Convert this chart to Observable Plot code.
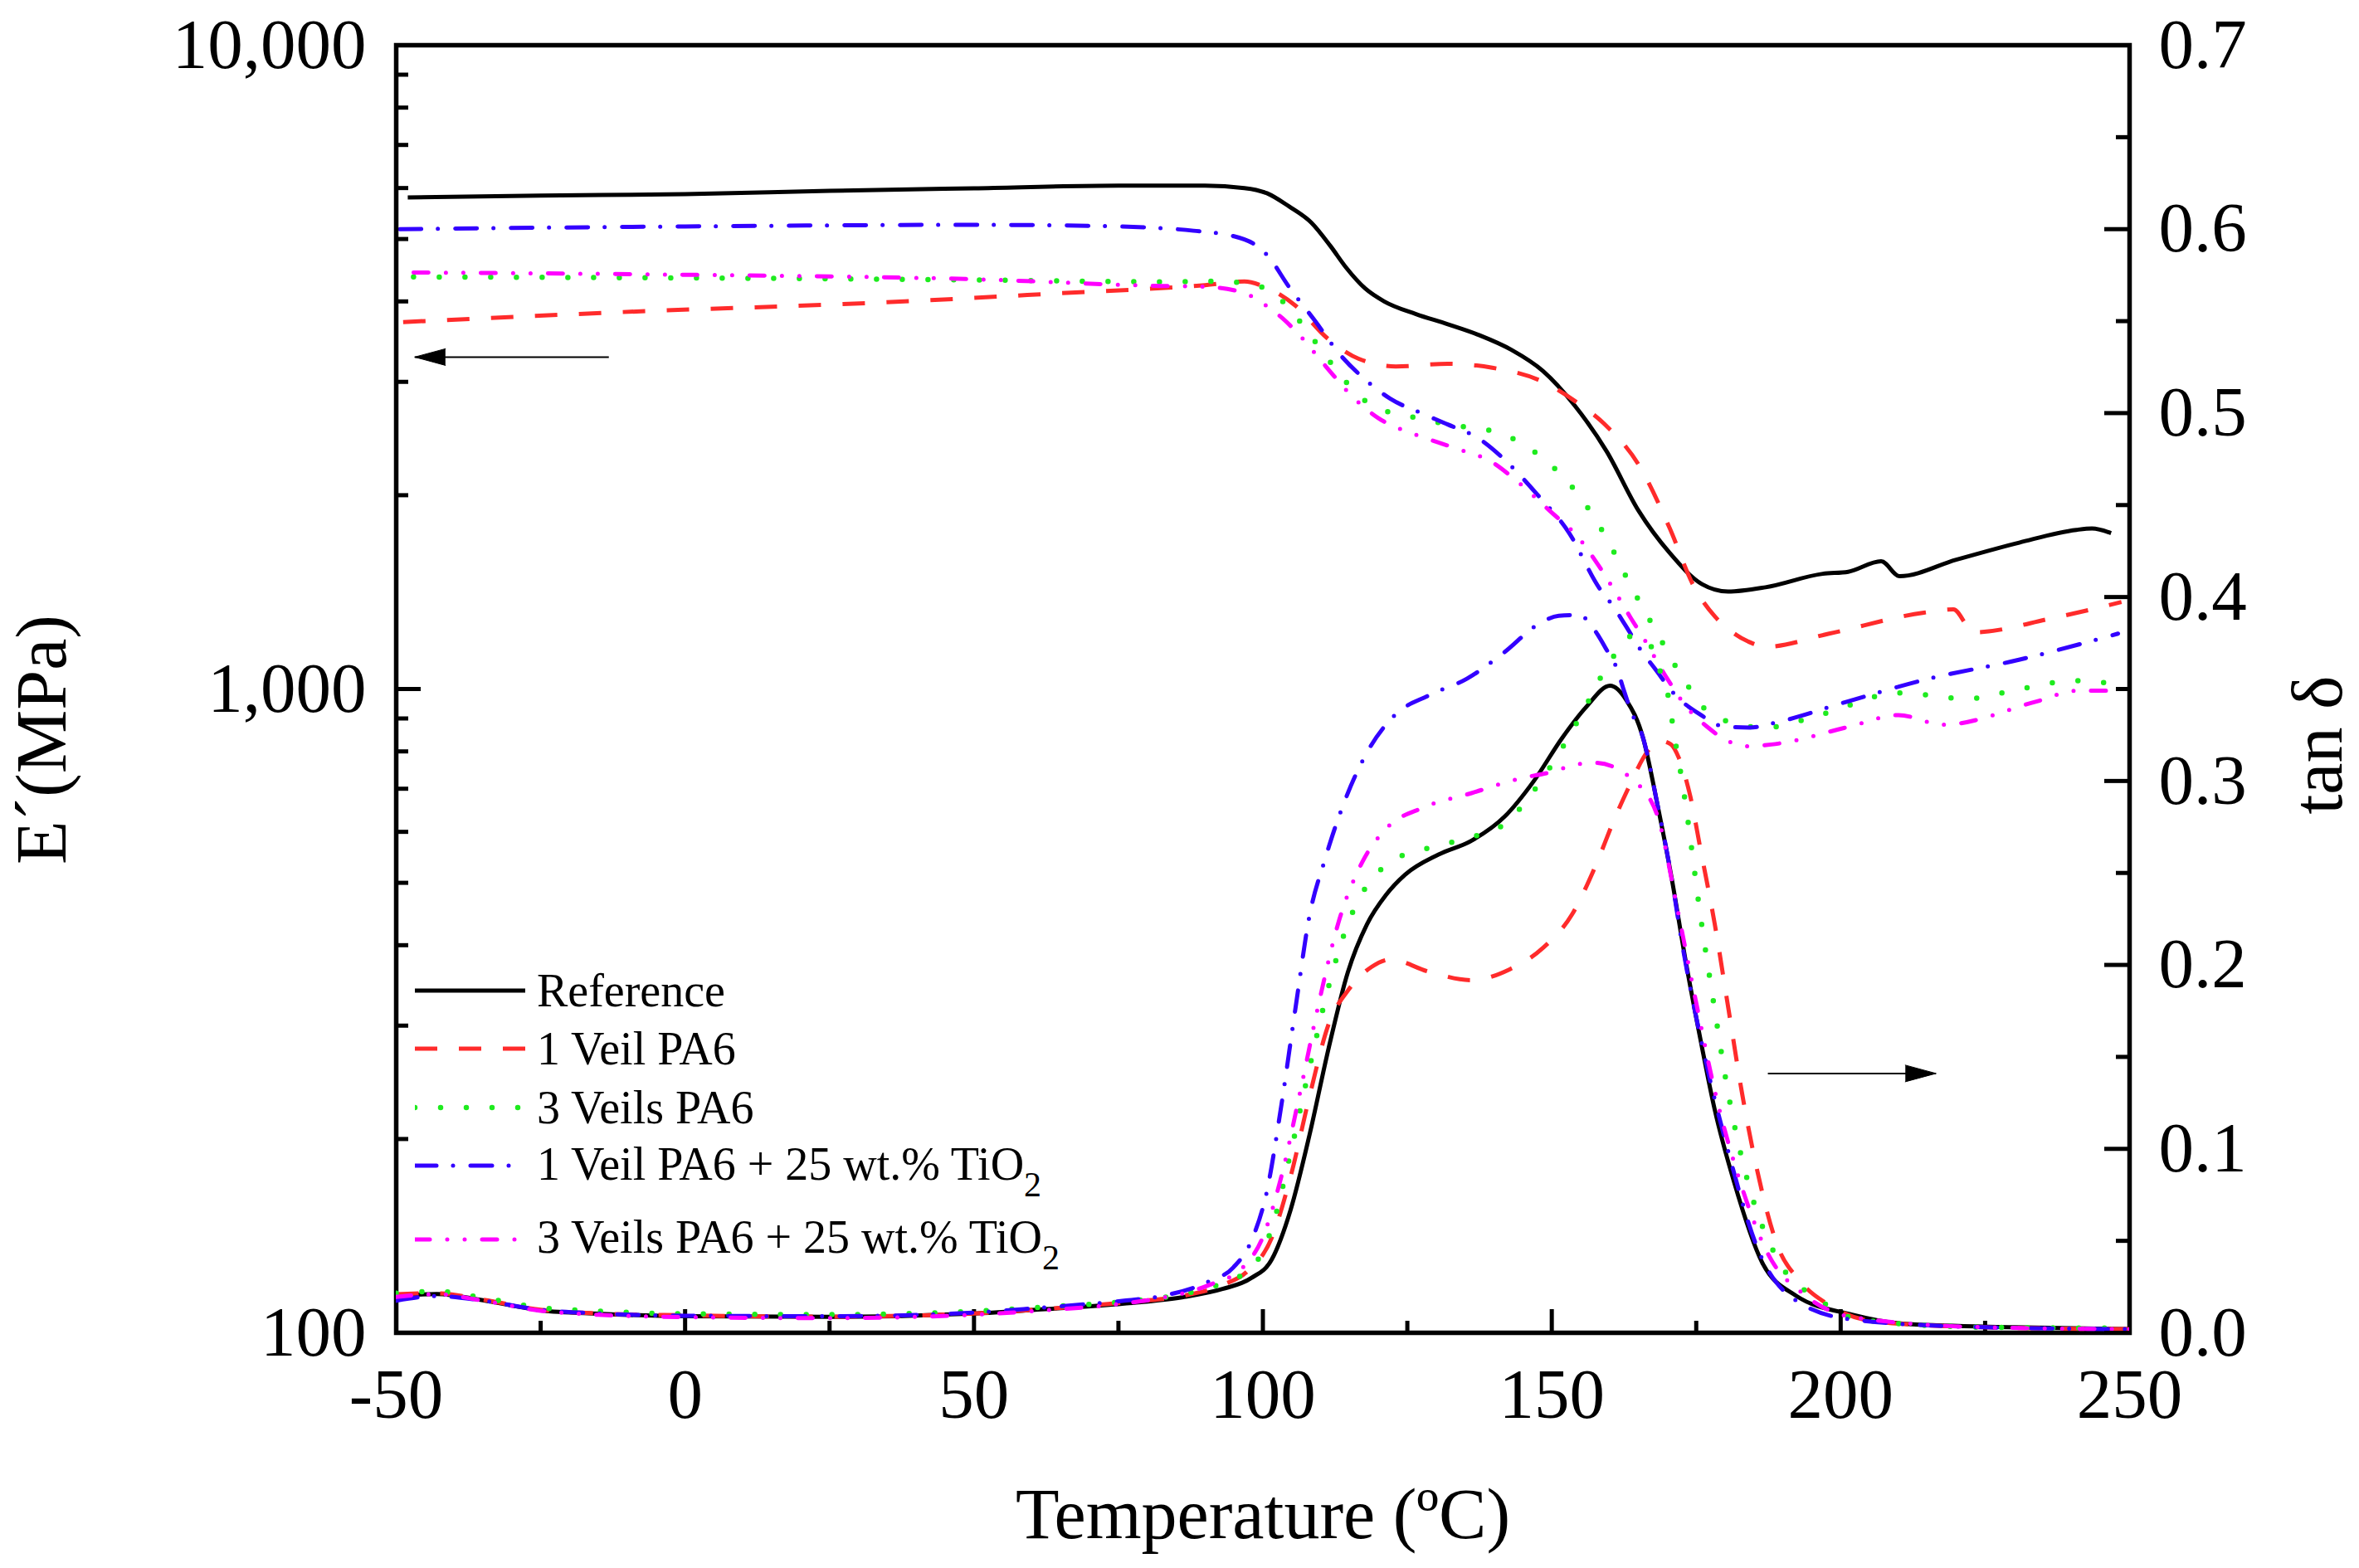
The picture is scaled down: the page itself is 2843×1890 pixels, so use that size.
<!DOCTYPE html>
<html><head><meta charset="utf-8">
<script src="https://cdn.jsdelivr.net/npm/d3@7"></script>
<script src="https://cdn.jsdelivr.net/npm/@observablehq/plot@0.6"></script>
<style>
html,body{margin:0;padding:0;background:#fff;}
#chart{position:relative;width:2843px;height:1890px;font-family:"Liberation Serif","Times New Roman",serif;color:#000;}
#chart > svg{position:absolute;left:0;top:0;}
.legend-row{position:absolute;left:500px;height:40px;display:flex;align-items:center;font-size:56px;line-height:40px;white-space:nowrap;}
.legend-row svg{display:block;flex:none;}
.legend-row .t{margin-left:14px;}
.legend-row .sub{font-size:42px;position:relative;top:20px;}
</style></head>
<body><div id="chart"></div>
<script>
// ---------- data ----------
const seriesNames = [
  ["Reference"],
  ["1 Veil PA6"],
  ["3 Veils PA6"],
  ["1 Veil PA6 + 25 wt.% TiO", "2"],
  ["3 Veils PA6 + 25 wt.% TiO", "2"]
];

// storage modulus E' (MPa) vs temperature (°C)
const modulusReference = [[-48,5800],[-25,5840],[0,5870],[25,5940],[50,5995],[75,6050],[90,6050],[96.8,6000],[100.7,5890],[104.5,5620],[108.4,5300],[111.7,4875],[114.4,4515],[117.7,4190],[121,4000],[126.5,3823],[131.9,3688],[137.5,3543],[143,3364],[148.5,3117],[153.9,2761],[159.5,2339],[165,1893],[170.4,1627],[176,1455],[180.5,1417],[187,1439],[196.9,1510],[201.3,1521],[207,1579],[210.2,1497],[220,1588],[230.9,1688],[240.8,1767],[243.5,1775],[246.8,1746]];
const modulus1Veil = [[-48.8,3715],[-14,3840],[38,4000],[65,4120],[90,4240],[96.8,4295],[100,4225],[105.7,3936],[111,3516],[116.6,3258],[123,3170],[132,3200],[139.7,3155],[148.5,2999],[154,2801],[159.5,2560],[165,2233],[170.4,1778],[174.5,1449],[178.3,1294],[181,1230],[184,1185],[187,1163],[198,1219],[214.4,1314],[219.5,1330],[223,1225],[236.4,1287],[248.6,1365]];
const modulus3Veils = [[-47,4366],[0,4350],[50,4320],[82.5,4290],[92,4300],[99.6,4216],[103.4,4000],[109,3467],[114.4,2999],[118.8,2760],[126.5,2638],[132,2576],[140.8,2500],[148,2300],[154.5,2009],[159.5,1714],[163.8,1439],[168.3,1219],[172.7,1039],[178.2,906],[187,871],[196.9,914],[210,986],[222,966],[231,1000],[240.3,1030],[247,1020]];
const modulus1VeilTiO2 = [[-49.4,5180],[0,5230],[50,5260],[75,5230],[88,5150],[94.6,5060],[98.5,4908],[100.7,4725],[104.5,4216],[109,3733],[113.3,3311],[117.7,3025],[122,2826],[127.6,2678],[132,2576],[137.5,2445],[141.9,2268],[147.4,2009],[152.9,1753],[158.2,1436],[160.5,1349],[162.6,1262],[165.6,1143],[167.8,1077],[171.3,980],[175.6,914],[179.7,875],[184.2,871],[189,888],[201.3,957],[214.4,1033],[231,1111],[248,1219]];
const modulus3VeilsTiO2 = [[-47,4436],[0,4400],[50,4330],[82.5,4227],[90,4215],[96.8,4120],[100,3970],[103.4,3765],[106.7,3516],[111,3162],[115.5,2846],[119.9,2638],[126.5,2483],[133,2371],[139.7,2250],[144,2102],[149.6,1893],[155,1702],[158,1560],[161.5,1390],[163.7,1288],[166,1195],[169.6,1051],[173.7,929],[176.8,875],[180.6,829],[183.8,815],[188,820],[201.3,873],[210,911],[217.7,880],[234,957],[240.8,994],[248.6,994]];

// loss factor tan δ vs temperature (°C)
const tanReference = [[-50,0.020],[-43,0.0211],[-35,0.0177],[-25,0.0122],[-15,0.0104],[0,0.009],[25,0.0087],[50,0.0105],[61,0.0126],[76,0.0159],[86,0.0193],[93,0.0238],[98,0.0298],[101.5,0.0397],[104.8,0.0669],[108.1,0.108],[111.4,0.155],[114.7,0.196],[118,0.222],[121.3,0.238],[124.6,0.249],[130.4,0.260],[136.1,0.2675],[141.8,0.2805],[146.9,0.300],[151.8,0.3234],[155.9,0.340],[160.1,0.3518],[162.9,0.344],[165.8,0.3234],[168.3,0.287],[170.7,0.248],[173.2,0.2016],[175.7,0.160],[178.2,0.1213],[181.5,0.0825],[186.4,0.0383],[192.2,0.0203],[202,0.0099],[211.8,0.0047],[230,0.003],[250,0.002]];
const tan1Veil = [[-50,0.021],[-43,0.0215],[-35,0.018],[-25,0.0125],[-15,0.0105],[0,0.0095],[25,0.0088],[50,0.0105],[61,0.0127],[76,0.0165],[86,0.020],[93,0.026],[97.3,0.0334],[101.5,0.0514],[104.8,0.085],[108.1,0.129],[111.4,0.168],[114.7,0.186],[118.8,0.1989],[122.1,0.203],[128.7,0.1963],[136.1,0.1917],[142.7,0.1976],[148.5,0.2093],[153.5,0.2274],[157.5,0.2533],[160.8,0.279],[163.1,0.2951],[166.7,0.3166],[168.5,0.322],[170.6,0.320],[172,0.3125],[174,0.2913],[175.7,0.2636],[178.2,0.2223],[180.6,0.1756],[183,0.129],[185.6,0.0876],[188.9,0.0487],[193,0.028],[198,0.0151],[206.3,0.006],[225,0.003],[250,0.002]];
const tan3Veils = [[-50,0.0215],[-43,0.0225],[-35,0.019],[-25,0.0137],[-15,0.0118],[0,0.0103],[25,0.0099],[50,0.0117],[61,0.0138],[76,0.017],[86,0.021],[93,0.027],[98.2,0.0358],[101.5,0.0565],[104.8,0.0979],[108.1,0.1446],[111.4,0.1885],[114.7,0.2223],[118,0.2431],[122.1,0.2559],[128.7,0.2636],[135.3,0.2688],[141.8,0.2766],[146.9,0.2947],[151.8,0.318],[156.2,0.3425],[158.3,0.3554],[160.7,0.3678],[163.7,0.3786],[165.5,0.378],[167.5,0.3713],[169,0.3573],[170.3,0.3438],[171,0.3291],[171.7,0.3154],[172.5,0.301],[173.2,0.2865],[175.7,0.2274],[178.2,0.1756],[180.6,0.129],[183.9,0.0825],[188.9,0.041],[196.4,0.0177],[203.5,0.007],[225,0.003],[250,0.0025]];
const tan1VeilTiO2 = [[-50,0.0175],[-43,0.020],[-35,0.0175],[-25,0.0125],[-15,0.0105],[0,0.0093],[25,0.009],[50,0.011],[61,0.0135],[76,0.0175],[82.5,0.020],[90.7,0.028],[94.9,0.0356],[98.2,0.0514],[100.7,0.0771],[103.2,0.1238],[105.6,0.1756],[108.1,0.2273],[110.6,0.2559],[113.9,0.287],[118,0.3154],[122.9,0.336],[128.7,0.3465],[135.3,0.3556],[141.8,0.370],[147.7,0.3853],[151.2,0.3898],[154.8,0.3903],[157.1,0.3834],[159.4,0.3718],[161.4,0.360],[162.4,0.350],[163.7,0.338],[165.8,0.3234],[168.3,0.287],[170.7,0.248],[172.4,0.2145],[176.5,0.1497],[180.6,0.0979],[185.6,0.046],[192.2,0.0177],[202,0.0072],[225,0.003],[250,0.002]];
const tan3VeilsTiO2 = [[-50,0.0195],[-43,0.021],[-35,0.0175],[-25,0.012],[-15,0.0098],[0,0.0085],[25,0.008],[50,0.0098],[61,0.012],[76,0.016],[82.5,0.019],[90.7,0.026],[96.6,0.0358],[99.9,0.0514],[103.2,0.085],[106.5,0.1317],[109.8,0.1809],[113,0.2222],[117.2,0.2559],[121.3,0.274],[127.9,0.2857],[136.1,0.2934],[144.4,0.3013],[150.1,0.305],[154.3,0.309],[157.4,0.3099],[161.5,0.3064],[164.6,0.299],[166.7,0.2918],[168.4,0.280],[171.6,0.2327],[174.9,0.1809],[178.2,0.1317],[182.3,0.085],[187.3,0.0436],[193.9,0.0203],[202,0.0086],[225,0.003],[250,0.002]];

// axis ticks
const xMajorTicks = [-50, 0, 50, 100, 150, 200, 250];
const xMinorTicks = [-25, 25, 75, 125, 175, 225];
const modulusMajorTicks = [100, 1000, 10000];
const modulusMinorTicks = [200, 300, 400, 500, 600, 700, 800, 900, 2000, 3000, 4000, 5000, 6000, 7000, 8000, 9000];
const tanMajorTicks = [0, 0.1, 0.2, 0.3, 0.4, 0.5, 0.6, 0.7];
const tanMinorTicks = [0.05, 0.15, 0.25, 0.35, 0.45, 0.55, 0.65];

// axis titles
const xTitle = "Temperature (ºC)";
const modulusTitle = "E´(MPa)";
const tanTitle = "tan δ";

// arrows pointing to the relevant axis (data coordinates)
const modulusArrow = [{from: -13.2, to: -46.8, level: 3278}];
const tanArrow = [{from: 187.4, to: 216.5, level: 0.141}];

// ---------- styling ----------
const styles = [
  {color: "#000000", width: 5, dash: null, cap: "butt"},
  {color: "#ff2b2b", width: 5, dash: "27 26", cap: "butt"},
  {color: "#1eeb1e", width: 6.5, dash: "0 31", cap: "round"},
  {color: "#3300ff", width: 5, dash: "26 20 0 21", cap: "round"},
  {color: "#ff00ff", width: 5, dash: "18 21 0 21 0 21", cap: "round"}
];
const modulusSeries = [modulusReference, modulus1Veil, modulus3Veils, modulus1VeilTiO2, modulus3VeilsTiO2];
const tanSeries = [tanReference, tan1Veil, tan3Veils, tan1VeilTiO2, tan3VeilsTiO2];

const W = 2843, H = 1890;
const margins = {marginTop: 54, marginRight: 277, marginBottom: 284, marginLeft: 477};
const FONT = "Liberation Serif";
const TICK = 85, TITLE = 86;
const plotStyle = {fontFamily: FONT, fontSize: TICK + "px", color: "black", background: "transparent", overflow: "visible", maxWidth: "none"};

const lineMarks = (arr) => arr.map((d, i) => Plot.line(d, {
  x: (p) => p[0], y: (p) => p[1],
  stroke: styles[i].color, strokeWidth: styles[i].width,
  strokeDasharray: styles[i].dash, strokeLinecap: styles[i].cap, strokeLinejoin: "round",
  curve: "monotone-x", clip: true
}));

// ---------- E' plot (log, left axis) ----------
const modulusPlot = Plot.plot({
  width: W, height: H, ...margins,
  x: {type: "linear", domain: [-50, 250]},
  y: {type: "log", domain: [100, 10000]},
  style: plotStyle,
  marks: [
    ...lineMarks(modulusSeries),
    Plot.axisX({ticks: xMajorTicks, tickSize: -28, strokeWidth: 5, fill: "none", tickFormat: () => "", label: null}),
    Plot.axisX({ticks: xMinorTicks, tickSize: -14, strokeWidth: 5, fill: "none", tickFormat: () => "", label: null}),
    Plot.axisX({ticks: xMajorTicks, tickSize: 0, tickPadding: 42, tickFormat: (d) => String(d), fontSize: TICK, label: null}),
    Plot.axisY({anchor: "left", ticks: modulusMajorTicks, tickSize: -30, strokeWidth: 5, fill: "none", tickFormat: () => "", label: null}),
    Plot.axisY({anchor: "left", ticks: modulusMinorTicks, tickSize: -15, strokeWidth: 5, fill: "none", tickFormat: () => "", label: null}),
    Plot.axisY({anchor: "left", ticks: modulusMajorTicks, tickSize: 0, tickPadding: 36, tickFormat: d3.format(","), fontSize: TICK, label: null}),
    Plot.text([xTitle], {frameAnchor: "bottom", text: (d) => d, textAnchor: "middle", lineAnchor: "bottom", dy: 247, fontSize: TITLE}),
    Plot.text([modulusTitle], {frameAnchor: "left", text: (d) => d, textAnchor: "middle", rotate: -90, lineAnchor: "bottom", dx: -398.5, dy: 61, fontSize: TITLE}),
    Plot.text([tanTitle], {frameAnchor: "right", text: (d) => d, textAnchor: "middle", rotate: -90, lineAnchor: "bottom", dx: 255, dy: 67.5, fontSize: TITLE}),
    Plot.link(modulusArrow, {x1: "from", x2: "to", y1: "level", y2: "level", stroke: "black", strokeWidth: 2}),
    Plot.vector(modulusArrow, {x: "to", y: "level", rotate: 270, length: 37, r: 10, shape: "spike", anchor: "end", fill: "black", stroke: "black", strokeWidth: 1}),
    Plot.frame({stroke: "black", strokeWidth: 5.5})
  ]
});

// ---------- tan δ plot (linear, right axis) ----------
const tanPlot = Plot.plot({
  width: W, height: H, ...margins,
  x: {type: "linear", domain: [-50, 250], axis: null},
  y: {type: "linear", domain: [0, 0.7], axis: null},
  style: plotStyle,
  marks: [
    ...lineMarks(tanSeries),
    Plot.axisY({anchor: "right", ticks: tanMajorTicks, tickSize: -31, strokeWidth: 5, fill: "none", tickFormat: () => "", label: null}),
    Plot.axisY({anchor: "right", ticks: tanMinorTicks, tickSize: -17, strokeWidth: 5, fill: "none", tickFormat: () => "", label: null}),
    Plot.axisY({anchor: "right", ticks: tanMajorTicks, tickSize: 0, tickPadding: 35, tickFormat: d3.format(".1f"), fontSize: TICK, label: null}),
    Plot.link(tanArrow, {x1: "from", x2: "to", y1: "level", y2: "level", stroke: "black", strokeWidth: 2}),
    Plot.vector(tanArrow, {x: "to", y: "level", rotate: 90, length: 37, r: 10, shape: "spike", anchor: "end", fill: "black", stroke: "black", strokeWidth: 1})
  ]
});

const chart = document.getElementById("chart");
chart.appendChild(modulusPlot);
chart.appendChild(tanPlot);

// ---------- legend ----------
const legendRowCenters = [1193.5, 1264, 1335, 1405, 1493.5];
seriesNames.forEach((parts, i) => {
  const row = document.createElement("div");
  row.className = "legend-row";
  row.style.top = (legendRowCenters[i] - 20) + "px";
  const sw = d3.create("svg").attr("width", 133).attr("height", 40);
  sw.append("line")
    .attr("x1", 0).attr("x2", 133).attr("y1", 20).attr("y2", 20)
    .attr("stroke", styles[i].color).attr("stroke-width", styles[i].width)
    .attr("stroke-dasharray", styles[i].dash).attr("stroke-linecap", styles[i].cap);
  row.appendChild(sw.node());
  const t = document.createElement("span");
  t.className = "t";
  t.textContent = parts[0];
  if (parts[1]) {
    const s = document.createElement("span");
    s.className = "sub";
    s.textContent = parts[1];
    t.appendChild(s);
  }
  row.appendChild(t);
  chart.appendChild(row);
});
</script></body></html>
